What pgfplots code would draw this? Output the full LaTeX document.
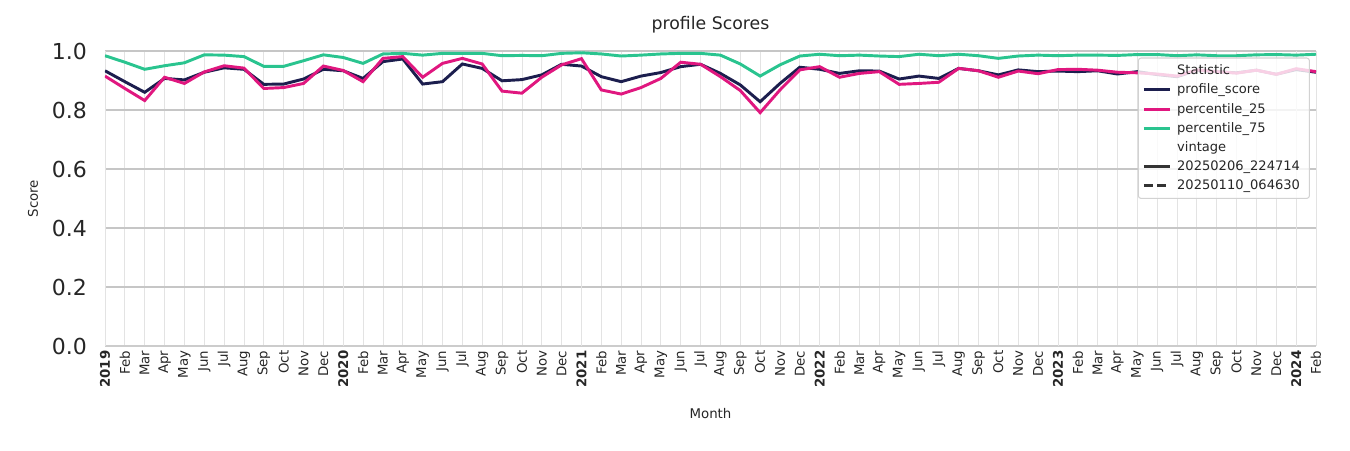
\documentclass[border=0pt]{standalone}
\usepackage{fontspec}
\setmainfont{DejaVu Sans}
\usepackage{pgfplots}
\pgfplotsset{compat=1.18}

\definecolor{navy}{HTML}{1C1E4E}
\definecolor{pinkc}{HTML}{E0177F}
\definecolor{greenc}{HTML}{2AC48F}
\definecolor{txt}{HTML}{262626}

\begin{document}
\begin{tikzpicture}
\begin{axis}[
    name=ax,
    scale only axis,
    width=908.25pt, height=221.25pt,
    xmin=0, xmax=61, ymin=0, ymax=1,
    axis x line*=bottom, axis y line*=left,
    x axis line style={draw=gray!40, line width=2pt, -},
    y axis line style={draw=none},
    major tick length=0pt,
    xtick={0,...,61},
    xticklabels={\textbf{2019},Feb,Mar,Apr,May,Jun,Jul,Aug,Sep,Oct,Nov,Dec,
                 \textbf{2020},Feb,Mar,Apr,May,Jun,Jul,Aug,Sep,Oct,Nov,Dec,
                 \textbf{2021},Feb,Mar,Apr,May,Jun,Jul,Aug,Sep,Oct,Nov,Dec,
                 \textbf{2022},Feb,Mar,Apr,May,Jun,Jul,Aug,Sep,Oct,Nov,Dec,
                 \textbf{2023},Feb,Mar,Apr,May,Jun,Jul,Aug,Sep,Oct,Nov,Dec,
                 \textbf{2024},Feb},
    xticklabel style={rotate=90, anchor=east, font=\fontsize{10}{12}\selectfont, text=txt},
    ytick={0,0.2,...,1.0},
    yticklabel style={font=\fontsize{16.5}{18}\selectfont, text=txt, xshift=-10pt},
    /pgf/number format/.cd, fixed, fixed zerofill, precision=1, assume math mode=true,
    /pgfplots/.cd,
    grid=major,
    x grid style={color=gray!22, line width=0.6pt},
    y grid style={color=gray!45, line width=1.1pt},
    extra x ticks={0,12,24,36,48,60},
    extra x tick labels={},
    extra x tick style={grid=major, major grid style={color=black!75, line width=0.8pt}},
    title={profile Scores},
    title style={at={(axis description cs:0.5,1.061)}, anchor=center, font=\fontsize{13}{15}\selectfont, text=txt},
    xlabel={Month},
    xlabel style={at={(axis description cs:0.5,-0.2305)}, anchor=center, font=\fontsize{10}{12}\selectfont, text=txt},
    ylabel={Score},
    ylabel style={at={(axis description cs:-0.0595,0.5)}, anchor=center, font=\fontsize{10}{12}\selectfont, text=txt},
    legend cell align=left,
    legend style={at={(0.995,0.978)}, anchor=north east,
        fill=white, fill opacity=0.8, draw opacity=1, text opacity=1,
        draw=gray!35, rounded corners=2pt, line width=0.8pt,
        font=\fontsize{9.8}{11.5}\selectfont, text=txt,
        row sep=1.5pt, inner sep=3pt,
        nodes={inner xsep=4pt}},
    legend image code/.code={\draw[#1] (0cm,0cm) -- (0.7cm,0cm);},
]
\addplot[navy, line width=2.2pt, forget plot] coordinates {
(0,0.933) (1,0.896) (2,0.860) (3,0.907) (4,0.902) (5,0.928) (6,0.943) (7,0.938)
(8,0.887) (9,0.888) (10,0.905) (11,0.938) (12,0.933) (13,0.907) (14,0.964) (15,0.973)
(16,0.888) (17,0.896) (18,0.956) (19,0.941) (20,0.899) (21,0.903) (22,0.919) (23,0.955)
(24,0.949) (25,0.913) (26,0.896) (27,0.915) (28,0.927) (29,0.947) (30,0.955) (31,0.924)
(32,0.885) (33,0.828) (34,0.890) (35,0.945) (36,0.938) (37,0.924) (38,0.933) (39,0.932)
(40,0.905) (41,0.915) (42,0.907) (43,0.941) (44,0.933) (45,0.919) (46,0.936) (47,0.930)
(48,0.932) (49,0.930) (50,0.933) (51,0.922) (52,0.930) (53,0.920) (54,0.913) (55,0.935)
(56,0.930) (57,0.926) (58,0.935) (59,0.921) (60,0.937) (61,0.928)};
\addplot[pinkc, line width=2.2pt, forget plot] coordinates {
(0,0.915) (1,0.873) (2,0.832) (3,0.911) (4,0.890) (5,0.929) (6,0.950) (7,0.942)
(8,0.873) (9,0.876) (10,0.890) (11,0.949) (12,0.934) (13,0.896) (14,0.975) (15,0.981)
(16,0.911) (17,0.958) (18,0.975) (19,0.956) (20,0.864) (21,0.857) (22,0.911) (23,0.953)
(24,0.974) (25,0.868) (26,0.854) (27,0.876) (28,0.907) (29,0.962) (30,0.955) (31,0.913)
(32,0.866) (33,0.791) (34,0.868) (35,0.936) (36,0.947) (37,0.911) (38,0.924) (39,0.930)
(40,0.887) (41,0.890) (42,0.894) (43,0.941) (44,0.933) (45,0.911) (46,0.932) (47,0.923)
(48,0.937) (49,0.938) (50,0.935) (51,0.928) (52,0.926) (53,0.922) (54,0.915) (55,0.936)
(56,0.930) (57,0.925) (58,0.935) (59,0.921) (60,0.940) (61,0.930)};
\addplot[greenc, line width=2.2pt, forget plot] coordinates {
(0,0.984) (1,0.962) (2,0.938) (3,0.950) (4,0.960) (5,0.987) (6,0.986) (7,0.981)
(8,0.948) (9,0.948) (10,0.967) (11,0.987) (12,0.978) (13,0.958) (14,0.990) (15,0.992)
(16,0.986) (17,0.992) (18,0.992) (19,0.992) (20,0.984) (21,0.985) (22,0.984) (23,0.992)
(24,0.994) (25,0.990) (26,0.983) (27,0.986) (28,0.990) (29,0.992) (30,0.992) (31,0.986)
(32,0.956) (33,0.915) (34,0.953) (35,0.983) (36,0.989) (37,0.984) (38,0.986) (39,0.983)
(40,0.981) (41,0.989) (42,0.984) (43,0.989) (44,0.984) (45,0.975) (46,0.983) (47,0.986)
(48,0.984) (49,0.986) (50,0.986) (51,0.985) (52,0.988) (53,0.988) (54,0.984) (55,0.987)
(56,0.984) (57,0.984) (58,0.987) (59,0.988) (60,0.986) (61,0.989)};
\addlegendimage{empty legend}
\addlegendimage{navy, line width=2.2pt}
\addlegendimage{pinkc, line width=2.2pt}
\addlegendimage{greenc, line width=2.2pt}
\addlegendimage{empty legend}
\addlegendimage{black!80, line width=2.2pt}
\addlegendimage{black!80, line width=2.2pt, dash pattern=on 7pt off 3pt}
\legend{Statistic, profile\_score, percentile\_25, percentile\_75, vintage, 20250206\_224714, 20250110\_064630}
\end{axis}
\pgfresetboundingbox
\path ([xshift=-78.75pt,yshift=-78pt]ax.south west) rectangle ([xshift=25.5pt,yshift=38.25pt]ax.north east);
\end{tikzpicture}
\end{document}
